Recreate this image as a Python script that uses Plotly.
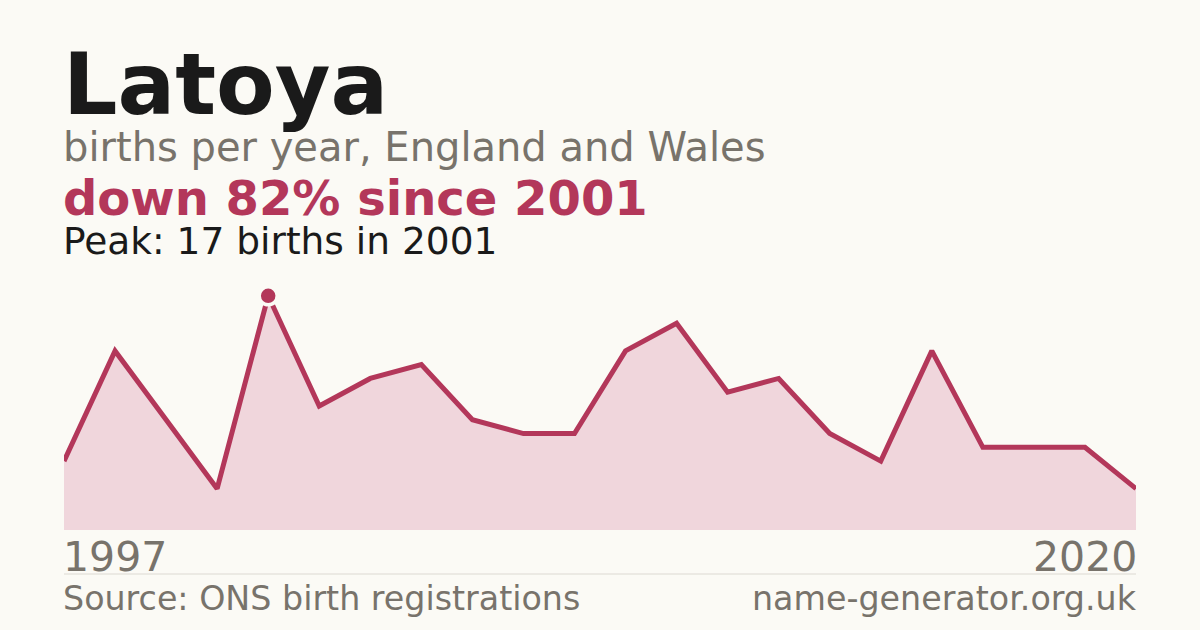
import plotly.graph_objects as go

# births per year (ONS), years with data only
years = [1997, 1998, 1999, 2000, 2001, 2002, 2003, 2004, 2005, 2006, 2007,
         2008, 2009, 2010, 2011, 2012, 2013, 2014, 2015, 2016, 2018, 2020]
births = [5, 13, 8, 3, 17, 9, 11, 12, 8, 7, 7,
          13, 15, 10, 11, 7, 5, 13, 6, 6, 6, 3]
tick_labels = [str(years[0]), str(years[-1])]

peak_i = births.index(max(births))
peak_year = years[peak_i]
peak_val = births[peak_i]
change = round((births[-1] - peak_val) / peak_val * 100)

BG = "#fbfaf5"
RED = "#b3375a"
FILL = "#f0d6dc"
GREY = "#78736b"
INK = "#1a1a1a"
FONT = "DejaVu Sans"

xs = [str(y) for y in years]

fig = go.Figure()
fig.add_trace(go.Scatter(x=xs, y=births, mode="lines", fill="tozeroy",
                         fillcolor=FILL, line=dict(color=RED, width=5),
                         hoverinfo="skip"))
fig.add_trace(go.Scatter(x=[xs[peak_i]], y=[peak_val], mode="markers",
                         marker=dict(color=RED, size=18,
                                     line=dict(color=BG, width=3.5)),
                         hoverinfo="skip"))


def py(p):
    # pixel row -> paper y (plot area spans rows 282..530)
    return (530 - p) / 248


def label(text, size, col, row, right=False):
    fig.add_annotation(text=text, xref="paper", yref="paper",
                       x=1 if right else 0, y=py(row),
                       xanchor="right" if right else "left", yanchor="middle",
                       xshift=3 if right else -3, showarrow=False,
                       font=dict(family=FONT, size=size, color=col))


label("<b>Latoya</b>", 85.5, INK, 84)
label("births per year, England and Wales", 40, GREY, 147)
label("<b>down %d%% since %d</b>" % (abs(change), peak_year), 48, RED, 198)
label("Peak: %d births in %d" % (peak_val, peak_year), 37.5, INK, 241)
label(tick_labels[0], 41, GREY, 557)
label(tick_labels[1], 41, GREY, 557, right=True)
label("Source: ONS birth registrations", 33.3, GREY, 598)
label("name-generator.org.uk", 33.3, GREY, 598, right=True)

fig.add_shape(type="line", xref="paper", yref="paper", x0=0, x1=1,
              y0=py(574), y1=py(574), line=dict(color="#dcd9d2", width=1))

fig.update_layout(
    width=1200, height=630,
    margin=dict(l=64, r=64, t=282, b=100),
    paper_bgcolor=BG, plot_bgcolor=BG,
    showlegend=False,
    xaxis=dict(type="category", range=[0, len(years) - 1], visible=False),
    yaxis=dict(range=[0, 18], visible=False),
)

fig.write_html("out.html", config={"displayModeBar": False},
               post_script="document.body.style.margin='0';")
